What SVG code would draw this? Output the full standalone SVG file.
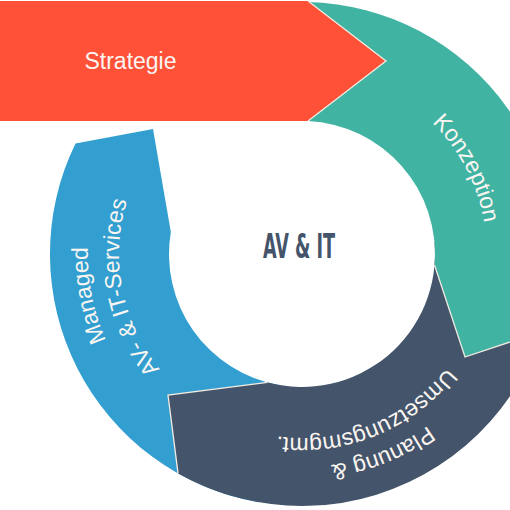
<svg xmlns="http://www.w3.org/2000/svg" xmlns:xlink="http://www.w3.org/1999/xlink" width="510" height="510" viewBox="0 0 510 510">
<style>
.lbl{font-family:"Liberation Sans",Arial,sans-serif;font-size:23px;fill:#fbf6f1;}
.seam{fill:none;stroke:#f3ece2;stroke-width:1.3;stroke-linejoin:miter;}
.center{font-family:"DejaVu Sans Condensed","Liberation Sans Narrow",sans-serif;font-weight:bold;font-size:34px;fill:#44546a;}
</style>
<defs>
<path id="pK" d="M246.4,77.6 A185,185 0 0 1 414.6,400.8"/>
<path id="pM1" d="M305.7,468 A214,214 0 0 1 225.3,54.2"/>
<path id="pM2" d="M305.2,437 A183,183 0 0 1 236.4,83.2"/>
<path id="pP1" d="M510.3,209.7 A213,213 0 0 1 121.4,366.9"/>
<path id="pP2" d="M482,215.7 A184,184 0 0 1 146,351.5"/>
</defs>
<rect width="510" height="510" fill="#ffffff"/>
<g id="managed">
<path d="M75.5,143.5 L153,129 L170.85,231.9 A133,133 0 0 0 278.9,385 L258.2,502.2 A252,252 0 0 1 75.5,143.5 Z" fill="#339fd1"/>
<text class="lbl"><textPath xlink:href="#pM1" href="#pM1" startOffset="50%" text-anchor="middle">Managed</textPath></text>
<text class="lbl"><textPath xlink:href="#pM2" href="#pM2" startOffset="50%" text-anchor="middle">AV- &amp; IT-Services</textPath></text>
</g>
<g id="planung">
<path d="M168,395 L267.5,382.4 A133,133 0 0 0 434.5,242.4 L553,232 A252,252 0 0 1 178.05,473.4 Z" fill="#44546a"/>
<polyline class="seam" points="267.5,382.4 168,395 178.05,473.4"/>
<text class="lbl"><textPath xlink:href="#pP1" href="#pP1" startOffset="50%" text-anchor="middle">Planung &amp;</textPath></text>
<text class="lbl"><textPath xlink:href="#pP2" href="#pP2" startOffset="50%" text-anchor="middle">Umsetzungsmgmt.</textPath></text>
</g>
<g id="konzeption">
<path d="M308,121.1 L308,2.1 A252,252 0 0 1 541.8,331.4 L465,357 L434.5,265 A133,133 0 0 0 308,121.1 Z" fill="#41b3a3"/>
<polyline class="seam" points="434.5,265 465,357 541.8,331.4"/>
<text class="lbl"><textPath xlink:href="#pK" href="#pK" startOffset="50%" text-anchor="middle">Konzeption</textPath></text>
</g>
<g id="strategie">
<polygon points="0,1 308,1 386,61 308,121 0,121" fill="#fe5137"/>
<polyline class="seam" points="308,1 386,61 308,121"/>
<text class="lbl" x="130.5" y="69" text-anchor="middle">Strategie</text>
</g>
<g id="center">
<text class="center" x="263" y="258" textLength="72" lengthAdjust="spacingAndGlyphs">AV &amp; IT</text>
</g>
<g id="connectors"/>
</svg>
